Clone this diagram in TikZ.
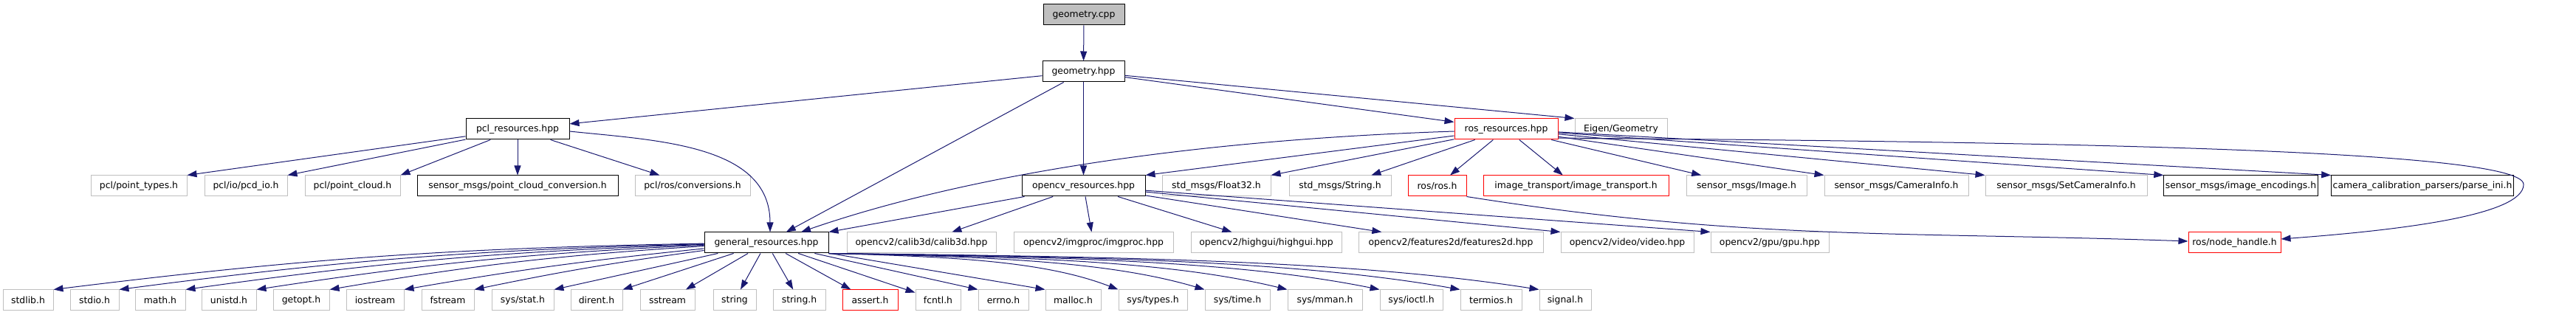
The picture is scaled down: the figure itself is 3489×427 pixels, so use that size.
\documentclass[tikz,border=0pt]{standalone}
\usepackage{fontspec}
\setmainfont{DejaVu Sans}
\usepackage{tikz}
\usetikzlibrary{arrows.meta}

\definecolor{edgeblue}{HTML}{191970}
\definecolor{extgray}{HTML}{BFBFBF}
\definecolor{missred}{HTML}{FF0000}

\begin{document}
\begin{tikzpicture}[
            x = 1pt, y = -1pt, % pixel grid, y downwards
            > = {Triangle[length=13pt,width=9pt]}, % arrow head style
            font = \fontsize{12.4}{15}\selectfont,
            line width = 1pt % line style
        ]

        \tikzstyle{hdr}=[
            draw,
            rectangle,
            fill = white,
            inner sep = 2pt,
            minimum height = 28pt
        ]
        \tikzstyle{docbox}=[hdr, draw = black]
        \tikzstyle{extbox}=[hdr, draw = extgray]
        \tikzstyle{redbox}=[hdr, draw = missred]
        \tikzstyle{rootbox}=[hdr, draw = black, fill = extgray]
        \tikzstyle{dep}=[->, draw = edgeblue]

        \useasboundingbox (0,0) rectangle (3489,427);

        % top
        \node[rootbox, minimum width=110pt] (geocpp) at (1468,20) {geometry.cpp};
        \node[docbox, minimum width=111pt] (geohpp) at (1467.5,97) {geometry.hpp};

        % second level
        \node[docbox, minimum width=140pt] (pclres) at (701,175) {pcl\_resources.hpp};
        \node[redbox, minimum width=140pt] (rosres) at (2040,175) {ros\_resources.hpp};
        \node[extbox, minimum width=125pt] (eigen) at (2195.5,175) {Eigen/Geometry};

        % third level
        \node[extbox, minimum width=130pt] (ptypes) at (188,252) {pcl/point\_types.h};
        \node[extbox, minimum width=112pt] (pcdio) at (333,252) {pcl/io/pcd\_io.h};
        \node[extbox, minimum width=129pt] (pcloud) at (477.5,252) {pcl/point\_cloud.h};
        \node[docbox, minimum width=272pt] (pcconv) at (701,252) {sensor\_msgs/point\_cloud\_conversion.h};
        \node[extbox, minimum width=156pt] (rosconv) at (938,252) {pcl/ros/conversions.h};
        \node[docbox, minimum width=167pt] (cvres) at (1467.5,252) {opencv\_resources.hpp};
        \node[extbox, minimum width=147pt] (float) at (1647.5,252) {std\_msgs/Float32.h};
        \node[extbox, minimum width=138pt] (stdstring) at (1815,252) {std\_msgs/String.h};
        \node[redbox, minimum width=79pt] (rosh) at (1946.5,252) {ros/ros.h};
        \node[redbox, minimum width=251pt] (imgtr) at (2134.5,252) {image\_transport/image\_transport.h};
        \node[extbox, minimum width=163pt] (image) at (2365.5,252) {sensor\_msgs/Image.h};
        \node[extbox, minimum width=195pt] (caminfo) at (2568.5,252) {sensor\_msgs/CameraInfo.h};
        \node[extbox, minimum width=219pt] (setcam) at (2798.5,252) {sensor\_msgs/SetCameraInfo.h};
        \node[docbox, minimum width=208pt] (encodings) at (3035,252) {sensor\_msgs/image\_encodings.h};
        \node[docbox, minimum width=242pt] (parseini) at (3281,252) {camera\_calibration\_parsers/parse\_ini.h};

        % fourth level
        \node[docbox, minimum width=168pt] (gen) at (1038,329) {general\_resources.hpp};
        \node[extbox, minimum width=202pt] (calib) at (1248,329) {opencv2/calib3d/calib3d.hpp};
        \node[extbox, minimum width=216pt] (imgproc) at (1481,329) {opencv2/imgproc/imgproc.hpp};
        \node[extbox, minimum width=204pt] (highgui) at (1715,329) {opencv2/highgui/highgui.hpp};
        \node[extbox, minimum width=250pt] (feat) at (1965,329) {opencv2/features2d/features2d.hpp};
        \node[extbox, minimum width=180pt] (video) at (2204,329) {opencv2/video/video.hpp};
        \node[extbox, minimum width=160pt] (gpu) at (2397,329) {opencv2/gpu/gpu.hpp};
        \node[redbox, minimum width=125pt] (nodeh) at (3026.5,329) {ros/node\_handle.h};

        % system headers
        \node[extbox, minimum width=68pt] (stdlib) at (38,407) {stdlib.h};
        \node[extbox, minimum width=66pt] (stdio) at (128,407) {stdio.h};
        \node[extbox, minimum width=68pt] (math) at (217,407) {math.h};
        \node[extbox, minimum width=74pt] (unistd) at (310,407) {unistd.h};
        \node[extbox, minimum width=76pt] (getopt) at (408,407) {getopt.h};
        \node[extbox, minimum width=78pt] (iostream) at (508,407) {iostream};
        \node[extbox, minimum width=71pt] (fstream) at (606.5,407) {fstream};
        \node[extbox, minimum width=84pt] (sysstat) at (708,407) {sys/stat.h};
        \node[extbox, minimum width=70pt] (dirent) at (808,407) {dirent.h};
        \node[extbox, minimum width=74pt] (sstream) at (904,407) {sstream};
        \node[extbox, minimum width=58pt] (string) at (995,407) {string};
        \node[extbox, minimum width=71pt] (stringh) at (1082.5,407) {string.h};
        \node[redbox, minimum width=75pt] (assert) at (1178.5,407) {assert.h};
        \node[extbox, minimum width=61pt] (fcntl) at (1270.5,407) {fcntl.h};
        \node[extbox, minimum width=68pt] (errno) at (1359,407) {errno.h};
        \node[extbox, minimum width=75pt] (malloc) at (1453.5,407) {malloc.h};
        \node[extbox, minimum width=93pt] (systypes) at (1561.5,407) {sys/types.h};
        \node[extbox, minimum width=88pt] (systime) at (1676,407) {sys/time.h};
        \node[extbox, minimum width=101pt] (sysmman) at (1794.5,407) {sys/mman.h};
        \node[extbox, minimum width=85pt] (sysioctl) at (1911.5,407) {sys/ioctl.h};
        \node[extbox, minimum width=83pt] (termios) at (2019.5,407) {termios.h};
        \node[extbox, minimum width=70pt] (signal) at (2120,407) {signal.h};

        % geometry
        \draw[dep] (geocpp) -- (geohpp);
        \draw[dep] (geohpp) -- (pclres);
        \draw[dep] (geohpp) -- (gen);
        \draw[dep] (geohpp) -- (cvres);
        \draw[dep] (geohpp) -- (rosres);
        \draw[dep] (geohpp) -- (eigen.north west);

        % pcl
        \draw[dep] (pclres) -- (ptypes.north east);
        \draw[dep] (pclres) -- (pcdio.north east);
        \draw[dep] (pclres) -- (pcloud.north east);
        \draw[dep] (pclres) -- (pcconv);
        \draw[dep] (pclres) -- (rosconv);
        \draw[dep] ([yshift=-3pt]pclres.east) to[out=-6,in=90] ([xshift=5pt]gen.north);

        % ros
        \draw[dep] ([yshift=-3pt]rosres.west) .. controls (1600,190) and (1300,240) .. ([xshift=47pt]gen.north);
        \draw[dep] (rosres) -- (cvres.north east);
        \draw[dep] (rosres) -- (float.north east);
        \draw[dep] (rosres) -- (stdstring);
        \draw[dep] (rosres) -- (rosh);
        \draw[dep] (rosres) -- (imgtr);
        \draw[dep] (rosres) -- (image);
        \draw[dep] (rosres) -- (caminfo.north west);
        \draw[dep] (rosres) -- (setcam.north west);
        \draw[dep] (rosres) -- (encodings.north west);
        \draw[dep] (rosres) -- (parseini.north west);
        \draw[dep] ([yshift=-12pt]rosres.east) .. controls (2700,192) and (3418,200) .. (3418,250)
            .. controls (3418,292) and (3250,312) .. ([yshift=5pt]nodeh.east);
        \draw[dep] (rosh.south east) to[out=-9,in=178] ([yshift=2pt]nodeh.west);

        % opencv
        \draw[dep] (cvres) -- (gen.north east);
        \draw[dep] (cvres) -- (calib);
        \draw[dep] (cvres) -- (imgproc);
        \draw[dep] (cvres) -- (highgui);
        \draw[dep] (cvres) -- (feat);
        \draw[dep] (cvres) -- (video.north west);
        \draw[dep] (cvres) -- (gpu.north west);

        % general
        \draw[dep] (gen) to[bend right=3] (stdlib.north east);
        \draw[dep] (gen) to[bend right=3] (stdio.north east);
        \draw[dep] (gen) to[bend right=3] (math.north east);
        \draw[dep] (gen) to[bend right=3] (unistd.north east);
        \draw[dep] (gen) to[bend right=3] (getopt.north east);
        \draw[dep] (gen) to[bend right=2] (iostream.north east);
        \draw[dep] (gen) to[bend right=2] (fstream.north east);
        \draw[dep] (gen) -- (sysstat.north east);
        \draw[dep] (gen) -- (dirent.north east);
        \draw[dep] (gen) -- (sstream);
        \draw[dep] (gen) -- (string);
        \draw[dep] (gen) -- (stringh);
        \draw[dep] (gen) -- (assert);
        \draw[dep] (gen) -- (fcntl);
        \draw[dep] (gen) -- (errno.north west);
        \draw[dep] (gen) -- (malloc.north west);
        \draw[dep] (gen.south east) .. controls (1299,348) and (1417,355) .. (systypes.north west);
        \draw[dep] (gen.south east) .. controls (1351,348) and (1504,355) .. (systime.north west);
        \draw[dep] (gen.south east) .. controls (1402,348) and (1588,355) .. (sysmman.north west);
        \draw[dep] (gen.south east) .. controls (1458,348) and (1682,355) .. (sysioctl.north west);
        \draw[dep] (gen.south east) .. controls (1507,348) and (1764,355) .. (termios.north west);
        \draw[dep] (gen.south east) .. controls (1555,348) and (1844,355) .. (signal.north west);

    \end{tikzpicture}
\end{document}
